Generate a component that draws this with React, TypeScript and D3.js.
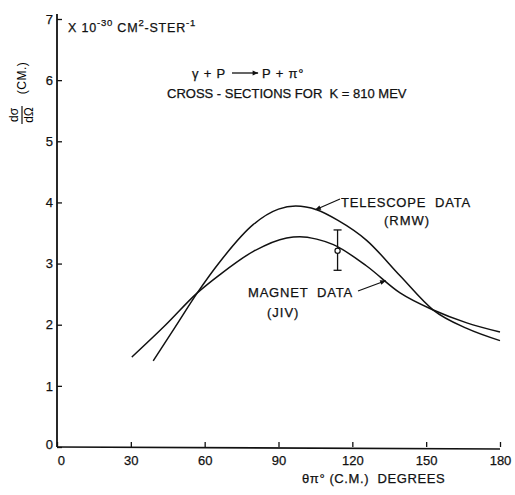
import React, { useEffect, useRef } from 'react'
import * as d3 from 'd3'

// angles in degrees (c.m.), cross-sections in 10^-30 cm^2/ster
const telescopeDeg = [39.1, 48, 57.0, 66.2, 79.8, 90, 97, 105.5, 114, 125.8, 139.4, 152.9, 166.5, 180]
const telescopeVal = [1.41, 1.96, 2.52, 3.03, 3.64, 3.89, 3.94, 3.88, 3.71, 3.38, 2.80, 2.24, 1.94, 1.74]
const magnetDeg = [30.4, 44, 57.0, 66.2, 79.8, 93.3, 98.7, 105.5, 112.3, 125.8, 139.4, 152.9, 166.5, 180]
const magnetVal = [1.47, 1.99, 2.52, 2.82, 3.20, 3.42, 3.44, 3.40, 3.31, 2.96, 2.52, 2.24, 2.03, 1.88]
const errDeg = 114
const errVal = 3.21
const errLow = 2.89
const errHigh = 3.55
const xTicks = [0, 30, 60, 90, 120, 150, 180]
const yTicks = [0, 1, 2, 3, 4, 5, 6, 7]

const W = 515
const H = 495
const FONT = 'Liberation Sans, Arial, sans-serif'

export default function App() {
  const ref = useRef<SVGSVGElement>(null)

  useEffect(() => {
    const svg = d3.select(ref.current)
    svg.selectAll('*').remove()

    const x = d3.scaleLinear().domain([0, 180]).range([57, 500])
    const y = d3.scaleLinear().domain([0, 7]).range([447, 19])

    const defs = svg.append('defs')
    defs.append('marker')
      .attr('id', 'head')
      .attr('viewBox', '0 0 10 10')
      .attr('refX', 9).attr('refY', 5)
      .attr('markerWidth', 9).attr('markerHeight', 6)
      .attr('markerUnits', 'userSpaceOnUse')
      .attr('orient', 'auto')
      .append('path').attr('d', 'M0,1 L10,5 L0,9 Z').attr('fill', '#111')

    // axes
    const xAxis = d3.axisBottom(x).tickValues(xTicks).tickFormat(d3.format('d')).tickSize(-5).tickSizeOuter(0).tickPadding(9)
    const gx = svg.append('g').attr('transform', `translate(0,${y(0)})`).call(xAxis)
    const yAxis = d3.axisLeft(y).tickValues(yTicks).tickFormat(d3.format('d')).tickSize(-5).tickSizeOuter(0).tickPadding(4)
    const gy = svg.append('g').attr('transform', `translate(${x(0)},0)`).call(yAxis)
    gx.select('.domain').remove()
    gy.select('.domain').remove()
    gy.select('.tick text').attr('dy', '0.1em')
    for (const g of [gx, gy]) {
      g.selectAll('line').attr('stroke', '#111').attr('stroke-width', 1.3)
      g.selectAll('text').attr('font-family', FONT).attr('font-size', 13).attr('fill', '#111')
        .attr('stroke', '#111').attr('stroke-width', 0.25)
    }
    gx.select('.tick text').attr('dx', '0.3em')
    svg.append('line').attr('x1', x(0)).attr('x2', x(180)).attr('y1', y(0)).attr('y2', y(0) + 2)
      .attr('stroke', '#111').attr('stroke-width', 1.6)
    svg.append('line').attr('x1', x(0)).attr('x2', x(0)).attr('y1', y(0)).attr('y2', 14)
      .attr('stroke', '#111').attr('stroke-width', 1.8)

    // curves
    const line = d3.line<[number, number]>()
      .x(d => x(d[0])).y(d => y(d[1]))
      .curve(d3.curveMonotoneX)
    svg.append('path').attr('d', line(telescopeDeg.map((d, i) => [d, telescopeVal[i]]) as [number, number][]))
      .attr('fill', 'none').attr('stroke', '#111').attr('stroke-width', 1.5)
    svg.append('path').attr('d', line(magnetDeg.map((d, i) => [d, magnetVal[i]]) as [number, number][]))
      .attr('fill', 'none').attr('stroke', '#111').attr('stroke-width', 1.5)

    // error bar
    const ex = x(errDeg)
    svg.append('line').attr('x1', ex).attr('x2', ex).attr('y1', y(errLow)).attr('y2', y(errHigh))
      .attr('stroke', '#111').attr('stroke-width', 1.3)
    for (const v of [errLow, errHigh]) {
      svg.append('line').attr('x1', ex - 4).attr('x2', ex + 4).attr('y1', y(v)).attr('y2', y(v))
        .attr('stroke', '#111').attr('stroke-width', 1.3)
    }
    svg.append('circle').attr('cx', ex).attr('cy', y(errVal)).attr('r', 2.6)
      .attr('fill', 'white').attr('stroke', '#111').attr('stroke-width', 1.2)

    const txt = (tx: number, ty: number, s: string, anchor = 'start', size = 13, ls = 0.8) =>
      svg.append('text').attr('x', tx).attr('y', ty).attr('text-anchor', anchor)
        .attr('font-family', FONT).attr('font-size', size).attr('fill', '#111')
        .attr('stroke', '#111').attr('stroke-width', 0.25)
        .style('white-space', 'pre')
        .attr('letter-spacing', ls).text(s)

    // unit label
    const u = txt(68, 32, 'X 10', 'start', 12.5)
    u.append('tspan').attr('dy', -6).attr('font-size', 9.5).text('-30')
    u.append('tspan').attr('dy', 6).text(' CM')
    u.append('tspan').attr('dy', -6).attr('font-size', 9.5).text('2')
    u.append('tspan').attr('dy', 6).text('-STER')
    u.append('tspan').attr('dy', -6).attr('font-size', 9.5).text('-1')

    // reaction title
    txt(192, 78, 'γ + P')
    svg.append('line').attr('x1', 232).attr('x2', 258).attr('y1', 73).attr('y2', 73)
      .attr('stroke', '#111').attr('stroke-width', 1.3).attr('marker-end', 'url(#head)')
    txt(262, 78, 'P + π°')
    txt(167, 98, 'CROSS - SECTIONS FOR  K = 810 MEV', 'start', 13, 0)

    // curve labels
    txt(341, 207, 'TELESCOPE  DATA', 'start', 13, 0.8)
    txt(384, 225, '(RMW)', 'start', 13, 1)
    svg.append('line').attr('x1', 340).attr('y1', 199).attr('x2', x(105)).attr('y2', y(3.88))
      .attr('stroke', '#111').attr('stroke-width', 1.2).attr('marker-end', 'url(#head)')
    txt(248, 297, 'MAGNET  DATA', 'start', 13, 0.8)
    txt(267, 317, '(JIV)', 'start', 13, 1)
    svg.append('line').attr('x1', 358).attr('y1', 291).attr('x2', x(133.5)).attr('y2', y(2.72))
      .attr('stroke', '#111').attr('stroke-width', 1.2).attr('marker-end', 'url(#head)')

    // axis titles
    txt(302, 483, 'θπ° (C.M.)  DEGREES', 'start', 13, 0.6)
    const yl = svg.append('g').attr('transform', 'rotate(-90)')
    yl.append('text').attr('x', -115).attr('y', 18).attr('text-anchor', 'middle')
      .attr('font-family', FONT).attr('font-size', 12).text('dσ')
    yl.append('line').attr('x1', -124).attr('x2', -106).attr('y1', 22).attr('y2', 22)
      .attr('stroke', '#111').attr('stroke-width', 1.2)
    yl.append('text').attr('x', -115).attr('y', 33).attr('text-anchor', 'middle')
      .attr('font-family', FONT).attr('font-size', 12).text('dΩ')
    yl.append('text').attr('x', -78).attr('y', 26).attr('text-anchor', 'middle')
      .attr('font-family', FONT).attr('font-size', 12).attr('letter-spacing', 0.5).text('(CM.)')
  }, [])

  return (
    <svg ref={ref} width={W} height={H}
      style={{ position: 'absolute', left: 0, top: 0, background: 'white' }} />
  )
}
